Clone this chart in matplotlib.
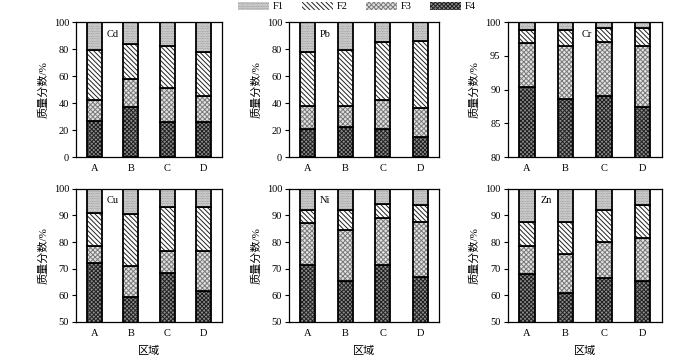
import numpy as np
import matplotlib
matplotlib.use("Agg")
import matplotlib.pyplot as plt
from matplotlib.patches import Patch

plt.rcParams["font.family"] = ["Liberation Serif", "Noto Sans CJK SC"]
plt.rcParams["font.size"] = 7.5
plt.rcParams["hatch.linewidth"] = 0.7

regions = ["A", "B", "C", "D"]
metals = ["Cd", "Pb", "Cr", "Cu", "Ni", "Zn"]
fractions = ["F1", "F2", "F3", "F4"]

# mass fraction (%) of each form, per region A-D
cd_f4 = [27, 37, 26, 26]
cd_f3 = [15, 21, 25, 19]
cd_f2 = [37, 26, 31, 33]
cd_f1 = [21, 16, 18, 22]

pb_f4 = [21, 22, 21, 15]
pb_f3 = [17, 16, 21, 21]
pb_f2 = [40, 41, 43, 50]
pb_f1 = [22, 21, 15, 14]

cr_f4 = [90.4, 88.6, 89.1, 87.4]
cr_f3 = [6.5, 7.9, 7.9, 9.0]
cr_f2 = [2.0, 2.3, 2.2, 2.8]
cr_f1 = [1.1, 1.2, 0.8, 0.8]

cu_f4 = [72, 59.5, 68.5, 61.5]
cu_f3 = [6.5, 11.5, 8, 15]
cu_f2 = [12.5, 19.5, 16.5, 16.5]
cu_f1 = [9, 9.5, 7, 7]

ni_f4 = [71.5, 65.5, 71.5, 67]
ni_f3 = [15.5, 19, 17.5, 20.5]
ni_f2 = [5, 7.5, 5.5, 6.5]
ni_f1 = [8, 8, 5.5, 6]

zn_f4 = [68, 61, 66.5, 65.5]
zn_f3 = [10.5, 14.5, 13.5, 16]
zn_f2 = [9, 12, 12, 12.5]
zn_f1 = [12.5, 12.5, 8, 6]

data = {
    "Cd": (cd_f4, cd_f3, cd_f2, cd_f1),
    "Pb": (pb_f4, pb_f3, pb_f2, pb_f1),
    "Cr": (cr_f4, cr_f3, cr_f2, cr_f1),
    "Cu": (cu_f4, cu_f3, cu_f2, cu_f1),
    "Ni": (ni_f4, ni_f3, ni_f2, ni_f1),
    "Zn": (zn_f4, zn_f3, zn_f2, zn_f1),
}
ylims = {"Cd": (0, 100, 20), "Pb": (0, 100, 20), "Cr": (80, 100, 5),
         "Cu": (50, 100, 10), "Ni": (50, 100, 10), "Zn": (50, 100, 10)}
label_x = {"Cd": 0.5, "Pb": 0.46, "Cr": 1.55, "Cu": 0.49, "Ni": 0.46, "Zn": 0.5}

# style per fraction, order F4, F3, F2, F1 (bottom to top)
styles = [
    dict(facecolor="#8c8c8c", edgecolor="#202020", hatch="x" * 8),
    dict(facecolor="#e2e2e2", edgecolor="#7a7a7a", hatch="x" * 7),
    dict(facecolor="white", edgecolor="#222222", hatch="\\" * 7),
    dict(facecolor="#e4e4e4", edgecolor="#8a8a8a", hatch="." * 10),
]

fig = plt.figure(figsize=(7, 3.55), dpi=100)
lefts = [0.1086, 0.4129, 0.725]
widths = [0.2086, 0.214, 0.2207]
bottoms = [0.5577, 0.093]
heights = [0.380, 0.375]

x = np.arange(len(regions))
bw = 0.4
for i, m in enumerate(metals):
    r, c = divmod(i, 3)
    ax = fig.add_axes([lefts[c], bottoms[r], widths[c], heights[r]])
    base = np.zeros(len(regions))
    for vals, st in zip(data[m], styles):
        v = np.array(vals, dtype=float)
        ax.bar(x, v, bw, bottom=base, linewidth=0, **st)
        ax.bar(x, v, bw, bottom=base, fill=False, edgecolor="black", linewidth=1.3)
        base += v
    lo, hi, step = ylims[m]
    ax.set_ylim(lo, hi)
    ax.set_yticks(np.arange(lo, hi + 0.1, step))
    ax.set_xlim(-0.5, 3.5)
    ax.set_xticks(x)
    ax.set_xticklabels(regions)
    ax.tick_params(axis="y", direction="out", length=3, width=0.8, pad=2)
    ax.tick_params(axis="x", length=0, pad=5)
    for s in ax.spines.values():
        s.set_linewidth(0.9)
    ax.set_ylabel("质量分数/%", labelpad=4, fontsize=8)
    if r == 1:
        ax.set_xlabel("区域", labelpad=6, fontsize=8)
    ax.text(label_x[m], 0.91, m, transform=ax.get_xaxis_transform(),
            ha="center", va="center")

handles = [Patch(linewidth=0, **st) for st in styles[::-1]]
fig.legend(handles, fractions, loc="center", bbox_to_anchor=(0.51, 0.982),
           ncol=4, frameon=False, handlelength=2.9, handleheight=0.8,
           handletextpad=0.4, columnspacing=1.8)

fig.savefig("out.png", dpi=100)
